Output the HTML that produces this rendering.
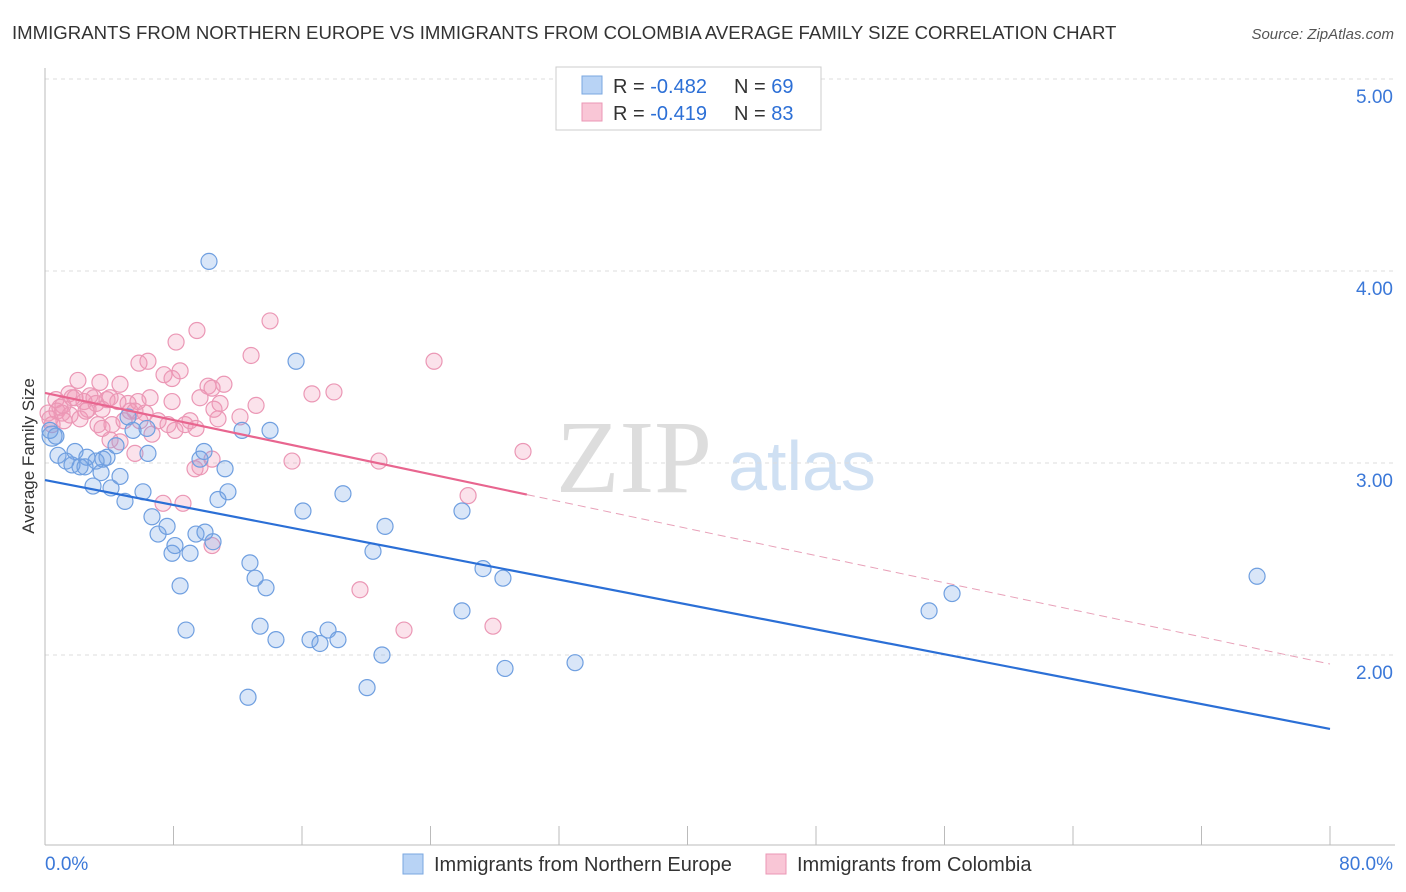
<!DOCTYPE html>
<html><head><meta charset="utf-8"><style>
body{margin:0;background:#fff;font-family:"Liberation Sans",sans-serif}
svg{display:block}
</style></head><body>
<svg id="chart" width="1406" height="892">
<text x="12" y="39" font-size="18.6" fill="#333">IMMIGRANTS FROM NORTHERN EUROPE VS IMMIGRANTS FROM COLOMBIA AVERAGE FAMILY SIZE CORRELATION CHART</text>
<text x="1394" y="39" font-size="15" fill="#555" font-style="italic" text-anchor="end">Source: ZipAtlas.com</text>
<g>
<text x="634" y="492" font-size="104" font-family="Liberation Serif,serif" fill="#dddddd" text-anchor="middle">ZIP</text>
<text x="802" y="490" font-size="70" fill="#cfe0f3" text-anchor="middle">atlas</text>
</g>
<g id="grid"></g><g id="axes"></g><g id="marks"></g>
<text transform="translate(34,456) rotate(-90)" font-size="17" fill="#333" text-anchor="middle">Average Family Size</text>
<g>
<rect x="556" y="67" width="265" height="63" fill="#fff" stroke="#ccc"/>
<rect x="582" y="76" width="20" height="18" fill="#b8d3f5" stroke="#7aa7e0"/>
<rect x="582" y="103" width="20" height="18" fill="#f9c6d6" stroke="#eb97b5"/>
<text x="613" y="93" font-size="20" fill="#333">R = <tspan fill="#2c6fd6">-0.482</tspan><tspan x="734">N = </tspan><tspan fill="#2c6fd6">69</tspan></text>
<text x="613" y="120" font-size="20" fill="#333">R = <tspan fill="#2c6fd6"> -0.419</tspan><tspan x="734">N = </tspan><tspan fill="#2c6fd6">83</tspan></text>
</g>
<g>
<rect x="403" y="854" width="20" height="20" fill="#b8d3f5" stroke="#7aa7e0"/>
<text x="434" y="871" font-size="20" fill="#333">Immigrants from Northern Europe</text>
<rect x="766" y="854" width="20" height="20" fill="#f9c6d6" stroke="#eb97b5"/>
<text x="797" y="871" font-size="20" fill="#333">Immigrants from Colombia</text>
</g>
</svg>
<script>
const yTicks=[5,4,3,2];
const yTickLabels=["5.00","4.00","3.00","2.00"];
const xTicks=[0,8,16,24,32,40,48,56,64,72,80];
const blueX=[10.21,15.63,0.44,0.81,1.31,1.87,2.61,2.18,1.68,2.49,2.99,3.49,3.86,3.61,4.11,4.67,4.98,4.42,5.17,6.10,6.41,6.66,7.04,7.60,7.91,8.09,8.41,8.78,9.03,9.40,9.65,9.96,9.90,10.46,10.77,11.21,11.39,12.27,12.76,13.08,13.39,13.76,14.01,14.38,12.64,16.06,16.50,17.12,17.62,18.24,18.55,20.42,20.98,20.05,21.17,25.96,25.96,27.27,28.51,28.64,33.0,55.04,56.47,75.46,0.68,6.35,5.48,3.18,0.31];
const blueY=[4.05,3.53,3.14,3.04,3.01,3.06,3.03,2.98,2.99,2.98,2.88,2.95,3.03,3.02,2.87,2.93,2.80,3.09,3.24,2.85,3.05,2.72,2.63,2.67,2.53,2.57,2.36,2.13,2.53,2.63,3.02,2.64,3.06,2.59,2.81,2.97,2.85,3.17,2.48,2.40,2.15,2.35,3.17,2.08,1.78,2.75,2.08,2.06,2.13,2.08,2.84,2.54,2.00,1.83,2.67,2.75,2.23,2.45,2.40,1.93,1.96,2.23,2.32,2.41,3.14,3.18,3.17,3.01,3.17];
const pinkX=[14.01,9.46,8.16,12.83,24.22,5.85,6.41,8.41,7.41,7.91,2.05,3.42,4.67,10.15,11.14,10.40,1.49,2.80,0.68,0.93,1.12,1.87,2.43,2.68,3.18,3.86,4.54,5.17,5.79,6.54,7.91,9.65,10.90,12.14,13.14,16.62,17.99,0.75,0.31,0.44,1.56,3.30,3.55,4.17,4.92,5.60,6.23,7.04,7.66,8.72,9.03,10.77,4.05,4.67,5.60,6.66,8.09,9.34,9.65,10.40,15.38,20.79,29.76,26.34,7.35,8.59,10.40,19.61,22.35,27.89,1.06,2.18,0.19,1.68,5.29,5.91,3.55,2.55,4.05,9.40,10.52,1.18,3.05];
const pinkY=[3.74,3.69,3.63,3.56,3.53,3.52,3.53,3.48,3.46,3.44,3.43,3.42,3.41,3.40,3.41,3.39,3.36,3.35,3.33,3.29,3.30,3.34,3.32,3.28,3.31,3.33,3.32,3.31,3.32,3.34,3.32,3.34,3.31,3.24,3.30,3.36,3.37,3.27,3.23,3.20,3.25,3.20,3.18,3.20,3.22,3.27,3.26,3.22,3.20,3.20,3.22,3.23,3.12,3.11,3.05,3.15,3.17,2.97,2.98,3.02,3.01,3.01,3.06,2.83,2.79,2.79,2.57,2.34,2.13,2.15,3.26,3.23,3.26,3.34,3.27,3.22,3.28,3.27,3.34,3.18,3.28,3.22,3.34];
const blueTrend=[2.911,1.615];
const pinkTrend=[3.365,1.953];
const pinkSolidEnd=30;
const NS='http://www.w3.org/2000/svg';
const X=v=>45+v/80*1285, Y=v=>79+(5-v)*192;
function mk(t,a,p){const e=document.createElementNS(NS,t);for(const k in a)e.setAttribute(k,a[k]);document.getElementById(p).appendChild(e);return e;}
yTicks.forEach((t,i)=>{
 const g=mk('line',{x1:45,x2:1395,y1:Y(t),y2:Y(t),stroke:'#ddd','stroke-dasharray':'4,4'},'grid');
 
 
 const l=mk('text',{x:1393,y:Y(t)+24,'font-size':19,fill:'#3b78d8','text-anchor':'end'},'axes');
 l.textContent=yTickLabels[i];
 
 
});
let a=mk('line',{x1:45,x2:45,y1:68,y2:845,stroke:'#bbb'},'axes');


a=mk('line',{x1:45,x2:1395,y1:845,y2:845,stroke:'#bbb'},'axes');


xTicks.forEach(t=>{const e=mk('line',{x1:X(t),x2:X(t),y1:826,y2:845,stroke:'#bbb'},'axes');
 
 });
let xl=mk('text',{x:45,y:870,'font-size':19,fill:'#3b78d8'},'axes');xl.textContent='0.0%';


xl=mk('text',{x:1393,y:870,'font-size':19,fill:'#3b78d8','text-anchor':'end'},'axes');xl.textContent='80.0%';


pinkX.forEach((v,i)=>{const c=mk('circle',{cx:X(v),cy:Y(pinkY[i]),r:8,fill:'rgba(242,150,182,0.28)',stroke:'#eb97b5','stroke-width':1.2},'marks');
 
 });
blueX.forEach((v,i)=>{const c=mk('circle',{cx:X(v),cy:Y(blueY[i]),r:i==2?10:8,fill:'rgba(120,165,230,0.28)',stroke:'#6f9fe0','stroke-width':1.2},'marks');
 
 });
const pinkAt=x=>pinkTrend[0]+(pinkTrend[1]-pinkTrend[0])*x/80;
let t=mk('line',{x1:X(0),y1:Y(blueTrend[0]),x2:X(80),y2:Y(blueTrend[1]),stroke:'#2b6fd6','stroke-width':2.2},'marks');


t=mk('line',{x1:X(0),y1:Y(pinkTrend[0]),x2:X(pinkSolidEnd),y2:Y(pinkAt(pinkSolidEnd)),stroke:'#e8658f','stroke-width':2.2},'marks');


t=mk('line',{x1:X(pinkSolidEnd),y1:Y(pinkAt(pinkSolidEnd)),x2:X(80),y2:Y(pinkTrend[1]),stroke:'#e8a0b8','stroke-width':1,'stroke-dasharray':'8,5'},'marks');


</script>
</body></html>
